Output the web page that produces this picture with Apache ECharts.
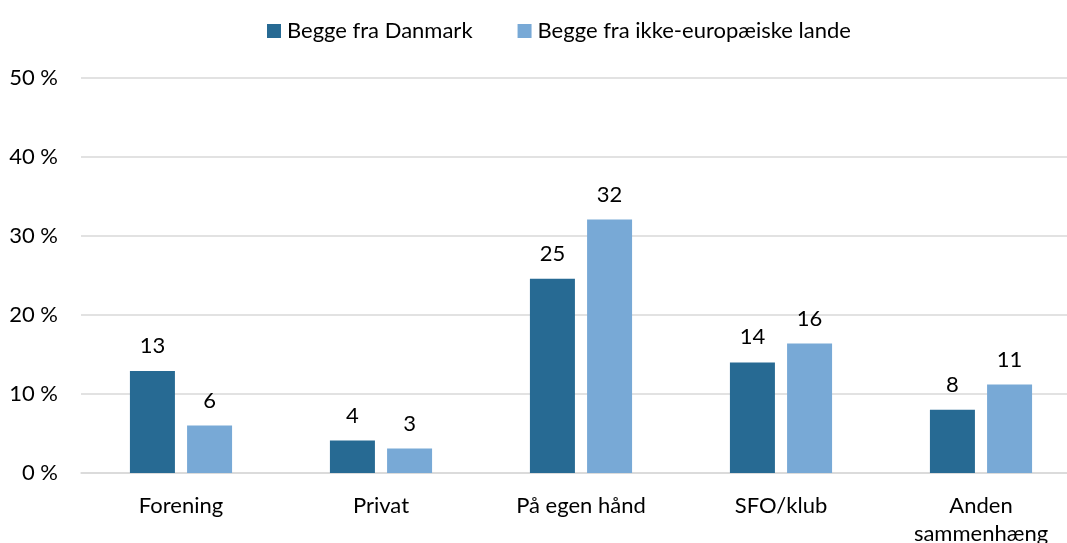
<!DOCTYPE html>
<html>
<head>
<meta charset="utf-8">
<script src="https://cdn.jsdelivr.net/npm/echarts@6/dist/echarts.min.js"></script>
<style>
	html, body { margin: 0; padding: 0; background: #fff; overflow: hidden; }
	#chart { width: 1067px; height: 543px; }
</style>
</head>
<body>
<div id="chart"></div>
<script type="text/javascript">
    // data
    var categories = ['Forening', 'Privat', 'På egen hånd', 'SFO/klub', 'Anden\nsammenhæng'];
    var danmark = [12.9, 4.1, 24.6, 14.0, 8.0];
    var ikkeEuropa = [6.0, 3.1, 32.1, 16.4, 11.2];
    var yTicks = [0, 10, 20, 30, 40, 50];

    var font = 'Lato, "Open Sans", sans-serif';
    var myChart = echarts.init(document.getElementById('chart'));

    var labelOpt = {
        show: true,
        position: 'top',
        distance: 14,
        color: '#000',
        fontSize: 22,
        fontFamily: font,
        formatter: function (p) { return Math.round(p.value); }
    };

    var option = {
        animation: false,
        legend: {
            top: 15,
            left: 262,
            itemWidth: 14,
            itemHeight: 14,
            itemGap: 45,
            icon: 'rect',
            textStyle: { fontSize: 22, fontFamily: font, color: '#000', padding: [0, 0, 0, 1] },
            data: ['Begge fra Danmark', 'Begge fra ikke-europæiske lande']
        },
        // plot area runs past the right edge of the picture, as in the original
        grid: {
            left: 81,
            top: 78,
            right: -14,
            height: 395,
            containLabel: false,
            outerBoundsMode: 'none'
        },
        xAxis: {
            type: 'category',
            data: categories,
            axisLine: { lineStyle: { color: '#d9d9d9', width: 1.5 } },
            axisTick: { show: false },
            axisLabel: {
                color: '#000',
                fontSize: 22,
                fontFamily: font,
                margin: 19,
                lineHeight: 28
            }
        },
        yAxis: {
            type: 'value',
            min: yTicks[0],
            max: yTicks[yTicks.length - 1],
            interval: 10,
            axisLine: { show: false },
            axisTick: { show: false },
            splitLine: { lineStyle: { color: '#d9d9d9', width: 1.5 } },
            axisLabel: {
                color: '#000',
                fontSize: 22,
                fontFamily: font,
                margin: 23,
                formatter: '{value} %'
            }
        },
        series: [
            {
                name: 'Begge fra Danmark',
                type: 'bar',
                barWidth: 45,
                barGap: '27%',
                itemStyle: { color: '#276a93' },
                label: labelOpt,
                data: danmark
            },
            {
                name: 'Begge fra ikke-europæiske lande',
                type: 'bar',
                barWidth: 45,
                itemStyle: { color: '#78a9d6' },
                label: labelOpt,
                data: ikkeEuropa
            }
        ]
    };
    myChart.setOption(option);
</script>
</body>
</html>
